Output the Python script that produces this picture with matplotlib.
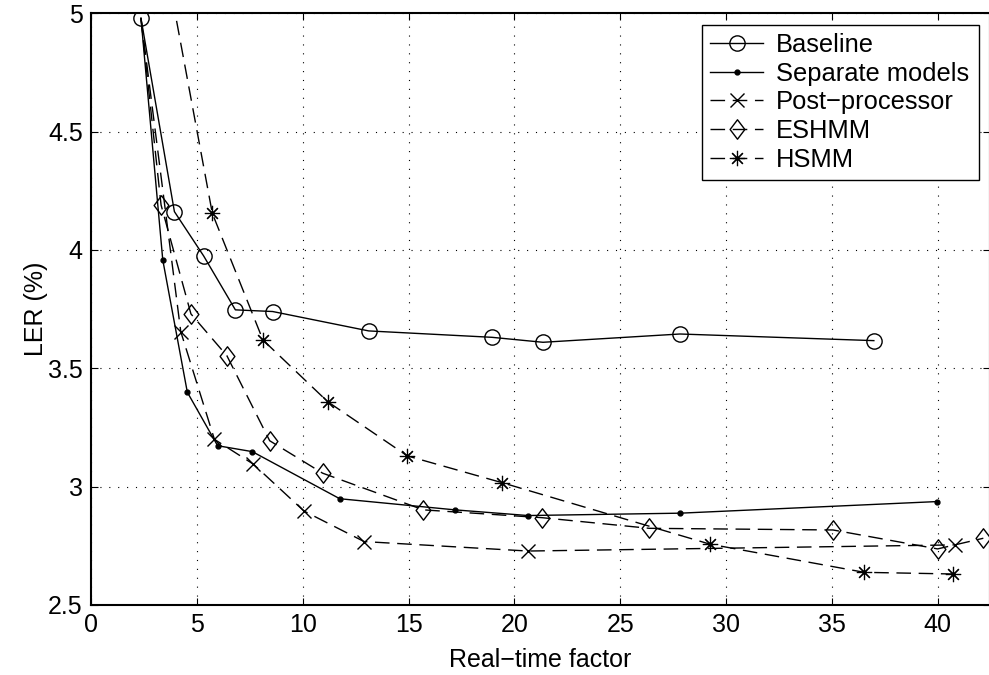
import matplotlib
matplotlib.use("Agg")
import matplotlib.pyplot as plt
from matplotlib.path import Path

plt.rcParams['font.family'] = ['Liberation Sans', 'DejaVu Sans']

# ---- data ----
baseline_x = [2.36, 3.94, 5.32, 6.82, 8.58, 13.12, 18.94, 21.35, 27.82, 36.98]
baseline_y = [4.979, 4.162, 3.975, 3.747, 3.740, 3.658, 3.631, 3.610, 3.645, 3.617]

separate_x = [2.36, 3.39, 4.55, 5.98, 7.62, 11.75, 17.19, 20.64, 27.84, 39.96]
separate_y = [4.979, 3.958, 3.399, 3.173, 3.148, 2.949, 2.902, 2.878, 2.888, 2.937]

post_x = [2.36, 4.24, 5.83, 7.67, 10.06, 12.90, 20.64, 40.83]
post_y = [4.979, 3.655, 3.200, 3.095, 2.897, 2.768, 2.728, 2.754]

eshmm_x = [2.36, 3.31, 4.72, 6.42, 8.44, 10.94, 15.70, 21.30, 26.37, 35.05, 39.99, 42.15]
eshmm_y = [4.979, 4.190, 3.730, 3.553, 3.194, 3.057, 2.902, 2.869, 2.824, 2.817, 2.737, 2.782]

hsmm_x = [3.00, 5.73, 8.12, 11.18, 14.94, 19.41, 29.24, 36.53, 40.73]
hsmm_y = [5.47, 4.155, 3.620, 3.359, 3.130, 3.017, 2.757, 2.638, 2.631]

labels = ["Baseline", "Separate models", "Post\u2212processor", "ESHMM", "HSMM"]
xticks = [0, 5, 10, 15, 20, 25, 30, 35, 40]
yticks = [2.5, 3, 3.5, 4, 4.5, 5]
xlabel = "Real\u2212time factor"
ylabel = "LER (%)"

# ---- figure ----
W, H = 989, 675
fig = plt.figure(figsize=(W / 100, H / 100), dpi=100)
ax_left, ax_right = 91, 990
ax_top, ax_bottom = 13.3, 605
ax = fig.add_axes([ax_left / W, (H - ax_bottom) / H,
                   (ax_right - ax_left) / W, (ax_bottom - ax_top) / H])

diamond = Path([(0, 1), (0.76, 0), (0, -1), (-0.76, 0), (0, 1)],
               [Path.MOVETO, Path.LINETO, Path.LINETO, Path.LINETO, Path.CLOSEPOLY])

dash = (0, (10.5, 5.5))
lw = 1.0
skip_first = slice(1, None)
ax.plot(baseline_x, baseline_y, color='k', lw=lw, ls='-', marker='o', ms=11,
        mfc='none', mec='k', mew=1.0, label=labels[0])
ax.plot(separate_x, separate_y, color='k', lw=lw, ls='-', marker='o', ms=3.5,
        mfc='k', mec='k', markevery=skip_first, label=labels[1])
ax.plot(post_x, post_y, color='k', lw=lw, ls=dash, marker='x', ms=9.5,
        mec='k', mew=1.0, markevery=skip_first, label=labels[2])
ax.plot(eshmm_x, eshmm_y, color='k', lw=lw, ls=dash, marker=diamond, ms=14,
        mfc='none', mec='k', mew=1.0, markevery=skip_first, label=labels[3])
ax.plot(hsmm_x, hsmm_y, color='k', lw=lw, ls=dash, marker=(8, 2, 0), ms=11,
        mec='k', mew=0.85, label=labels[4])

ax.set_xlim(0, (ax_right - ax_left) / 21.17)
ax.set_ylim(2.5, 5)
ax.set_xticks(xticks)
ax.set_yticks(yticks)
ax.set_xticklabels([str(t) for t in xticks])
ax.set_yticklabels([f"{t:g}" for t in yticks])
ax.tick_params(direction='in', length=5, width=0.8, top=True, right=True,
               labelsize=18, pad=6, colors='k')
ax.grid(True, color='k', ls=(0, (1, 7)), lw=0.8)
ax.set_axisbelow(False)
for s in ax.spines.values():
    s.set_linewidth(1.5)
    s.set_color('k')

ax.set_xlabel(xlabel, fontsize=18, labelpad=8)
ax.set_ylabel(ylabel, fontsize=18, labelpad=0)

aw = ax_right - ax_left
ah = ax_bottom - ax_top
lx0, lx1, ly0, ly1 = 702, 979, 25, 178
leg = ax.legend(loc='upper left',
                bbox_to_anchor=((lx0 - ax_left) / aw, (ax_bottom - ly1) / ah,
                                (lx1 - lx0) / aw, (ly1 - ly0) / ah),
                mode='expand', borderaxespad=0, fontsize=18.4, numpoints=1,
                handlelength=2.1, handletextpad=0.5, labelspacing=0.19,
                borderpad=0.3, fancybox=False, framealpha=1, edgecolor='k')
leg.get_frame().set_linewidth(1.0)

fig.savefig("out.png", dpi=100)
